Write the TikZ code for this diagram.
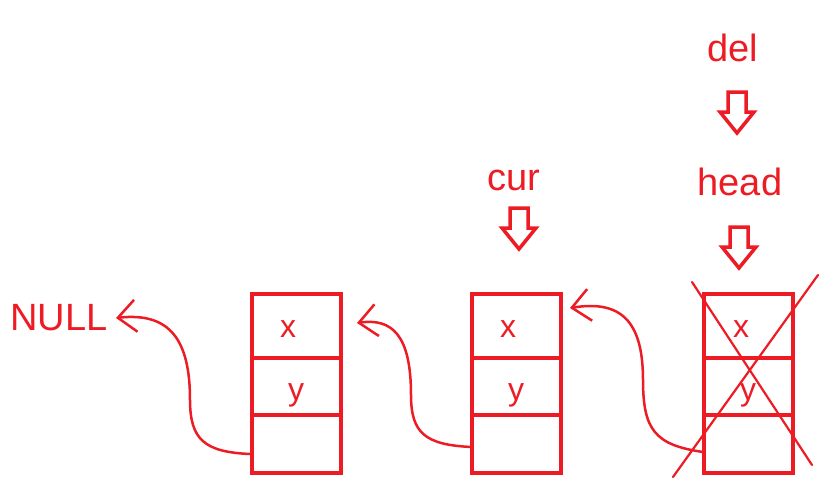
\documentclass[tikz,border=0pt]{standalone}
\usepackage{fontspec}
\setmainfont{Liberation Sans}
\usetikzlibrary{arrows.meta}
\definecolor{pred}{RGB}{237,28,36}
\tikzset{
  lbl/.style={text=pred, font=\fontsize{38}{44}\selectfont, inner sep=0pt},
  cell/.style={text=pred, font=\fontsize{32}{38}\selectfont, inner sep=0pt},
  nodebox/.style={draw=pred, line width=4pt, minimum width=89pt, minimum height=179pt, inner sep=0pt},
  divider/.style={draw=pred, line width=4pt},
  link/.style={draw=pred, line width=2.5pt, line cap=round, line join=round,
    -{Straight Barb[length=18pt,width=32pt,line width=2.5pt]}},
  cross/.style={draw=pred, line width=2.2pt, line cap=round},
  hollowdown/.pic={\draw[pred, line width=3.5pt, line join=miter]
    (-9,-20) -- (9,-20) -- (9,0) -- (17,0) -- (0,21) -- (-17,0) -- (-9,0) -- cycle;}
}
\begin{document}
\begin{tikzpicture}[x=1pt,y=-1pt]
\useasboundingbox (0,0) rectangle (825,499);
% boxes
\node[nodebox] (b1) at (296,383) {};
\node[nodebox] (b2) at (516,383) {};
\node[nodebox] (b3) at (748,383) {};
\foreach \b in {b1,b2,b3}{
  \draw[divider] ([yshift=-66pt]\b.north west) -- ([yshift=-66pt]\b.north east);
  \draw[divider] ([yshift=-123pt]\b.north west) -- ([yshift=-123pt]\b.north east);
}
% cell texts
\node[cell] (x1) at (288,329) {x};
\node[cell] (y1) at (296,395) {y};
\node[cell] (x2) at (508,329) {x};
\node[cell] (y2) at (516,395) {y};
\node[cell] (x3) at (741,329) {x};
\node[cell] (y3) at (748,395) {y};
% labels
\node[lbl] (null) at (59,318) {NULL};
\node[lbl] (cur) at (514,180) {cur};
\node[lbl] (head) at (740,182) {head};
\node[lbl] (del) at (733,48) {del};
% hollow arrows
\pic at (519,228) {hollowdown};
\pic at (739,247) {hollowdown};
\pic at (737,112) {hollowdown};
% connectors
\coordinate (s1) at (250,454);
\coordinate (t1) at (116,318);
\coordinate (s2) at (472,447);
\coordinate (t2) at (357,323);
\coordinate (s3) at (703,452);
\coordinate (t3) at (570,308);
\draw[link] (s1) .. controls (205,452) and (190,440) .. (190,400)
  .. controls (190,340) and (170,312) .. (t1);
\draw[link] (s2) .. controls (425,445) and (411,433) .. (411,395)
  .. controls (411,335) and (392,318) .. (t2);
\draw[link] (s3) .. controls (655,445) and (643,430) .. (643,380)
  .. controls (643,320) and (620,300) .. (t3);
% cross
\draw[cross] (692,282) -- (812,465);
\draw[cross] (673,477) -- (818,275);
\end{tikzpicture}
\end{document}
